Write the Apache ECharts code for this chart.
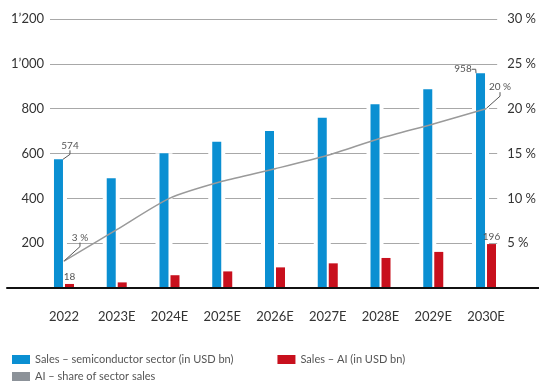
<!DOCTYPE html>
<html>
<head>
<meta charset="utf-8">
<script src="https://cdn.jsdelivr.net/npm/echarts@6/dist/echarts.min.js"></script>
<style>html,body{margin:0;padding:0;background:#fff}#c{width:539px;height:385px}</style>
</head>
<body>
<div id="c"></div>
<script>
const categories = ['2022','2023E','2024E','2025E','2026E','2027E','2028E','2029E','2030E'];
const semiSales = [574, 490, 601, 652, 700, 759, 820, 887, 958];
const aiSales = [18, 25, 57, 74, 92, 110, 134, 161, 196];
const aiShare = [3, 6.5, 10, 11.9, 13.3, 14.8, 16.7, 18.3, 20];
const leftTickLabels = {0:'', 200:'200', 400:'400', 600:'600', 800:'800', 1000:'1’000', 1200:'1’200'};
const rightTickLabels = {0:'', 5:'5 %', 10:'10 %', 15:'15 %', 20:'20 %', 25:'25 %', 30:'30 %'};
const names = {
  semi: 'Sales – semiconductor sector (in USD bn)',
  ai: 'Sales – AI (in USD bn)',
  share: 'AI – share of sector sales'
};

const FONT = 'Lato';
const BLUE = '#0a8fd2', RED = '#c8101d', GREY = '#9a9a9a';
const last = categories.length - 1;

const chart = echarts.init(document.getElementById('c'), null, {renderer: 'canvas'});
const gTop = 19, gBottom = 97;
const leader = {show: true, length2: 4, lineStyle: {color: '#555', width: 1}};
const smallLabel = {fontFamily: FONT, fontSize: 10, color: '#555'};

chart.setOption({
  animation: false,
  textStyle: {fontFamily: FONT},
  grid: [
    {left: 37.6, right: 26.6, top: gTop, bottom: gBottom},
    {left: 50, right: 39, top: gTop, bottom: gBottom},
    {left: 7, right: 0, top: gTop, bottom: gBottom}
  ],
  xAxis: [
    {type: 'category', gridIndex: 0, data: categories, axisLine: {show: false}, axisTick: {show: false},
     axisLabel: {fontFamily: FONT, fontSize: 13, color: '#333', margin: 22}},
    {type: 'category', gridIndex: 0, data: categories, show: false},
    {type: 'value', gridIndex: 1, show: false, min: 0, max: 1},
    {type: 'value', gridIndex: 2, min: 0, max: 1, z: 10, axisLine: {show: true, lineStyle: {color: '#111', width: 2}},
     axisTick: {show: false}, axisLabel: {show: false}, splitLine: {show: false}}
  ],
  yAxis: [
    {type: 'value', gridIndex: 0, min: 0, max: 1200, show: false},
    {type: 'value', gridIndex: 0, min: 0, max: 30, show: false},
    {type: 'value', gridIndex: 1, min: 0, max: 1200, interval: 200, position: 'left',
     axisLine: {show: false}, axisTick: {show: false},
     splitLine: {show: true, lineStyle: {color: '#a8a8a8', width: 1}},
     axisLabel: {fontFamily: FONT, fontSize: 13, color: '#333', margin: 6, formatter: v => leftTickLabels[v] ?? String(v)}},
    {type: 'value', gridIndex: 1, min: 0, max: 30, interval: 5, position: 'right',
     axisLine: {show: false}, axisTick: {show: false}, splitLine: {show: false},
     axisLabel: {fontFamily: FONT, fontSize: 13, color: '#333', margin: 10, formatter: v => rightTickLabels[v] ?? (v + ' %')}},
    {type: 'value', gridIndex: 2, min: 0, max: 1, show: false}
  ],
  legend: [
    {left: 7, top: 349, itemWidth: 18, itemHeight: 9, itemGap: 44, icon: 'rect',
     data: [names.semi, names.ai], textStyle: {fontFamily: FONT, fontSize: 11, color: '#555'}},
    {left: 7, top: 366, itemWidth: 18, itemHeight: 9, icon: 'rect',
     data: [{name: names.share, itemStyle: {color: '#8c9299'}}], textStyle: {fontFamily: FONT, fontSize: 11, color: '#555'}}
  ],
  series: [
    {type: 'bar', xAxisIndex: 1, yAxisIndex: 0, data: semiSales, barWidth: 17, barGap: '11.76%',
     itemStyle: {color: '#fff'}, silent: true, z: 2},
    {type: 'bar', xAxisIndex: 1, yAxisIndex: 0, data: semiSales.map(() => 0), barWidth: 9,
     itemStyle: {color: 'rgba(0,0,0,0)'}, silent: true, z: 1},
    {name: names.semi, type: 'bar', xAxisIndex: 0, yAxisIndex: 0, barWidth: 9, barGap: '22.2%', z: 3,
     itemStyle: {color: BLUE},
     labelLine: leader,
     data: semiSales.map((v, i) => (i === 0 || i === last)
        ? {value: v, label: {show: true, position: 'top', distance: 5, ...smallLabel}}
        : v),
     labelLayout: p => p.dataIndex === 0 ? {dx: 11.5, dy: -4} : {dx: -17.5, dy: 6}
    },
    {name: names.ai, type: 'bar', xAxisIndex: 0, yAxisIndex: 0, barWidth: 9, z: 3,
     itemStyle: {color: RED},
     data: aiSales.map((v, i) => (i === 0 || i === last)
        ? {value: v, label: {show: true, position: 'top', distance: 2, ...smallLabel}}
        : v)
    },
    {name: names.share, type: 'line', xAxisIndex: 0, yAxisIndex: 1, smooth: 0.25,
     symbol: 'circle', symbolSize: 1, showSymbol: true, z: 5,
     lineStyle: {color: GREY, width: 1.5}, itemStyle: {color: GREY},
     labelLine: leader,
     data: aiShare.map((v, i) => (i === 0 || i === last)
        ? {value: v, label: {show: true, position: 'top', distance: 5, formatter: p => p.value + ' %', ...smallLabel}}
        : v),
     labelLayout: p => p.dataIndex === 0 ? {dx: 16, dy: -13} : {dx: 14, dy: -11}
    }
  ]
});
</script>
</body>
</html>
